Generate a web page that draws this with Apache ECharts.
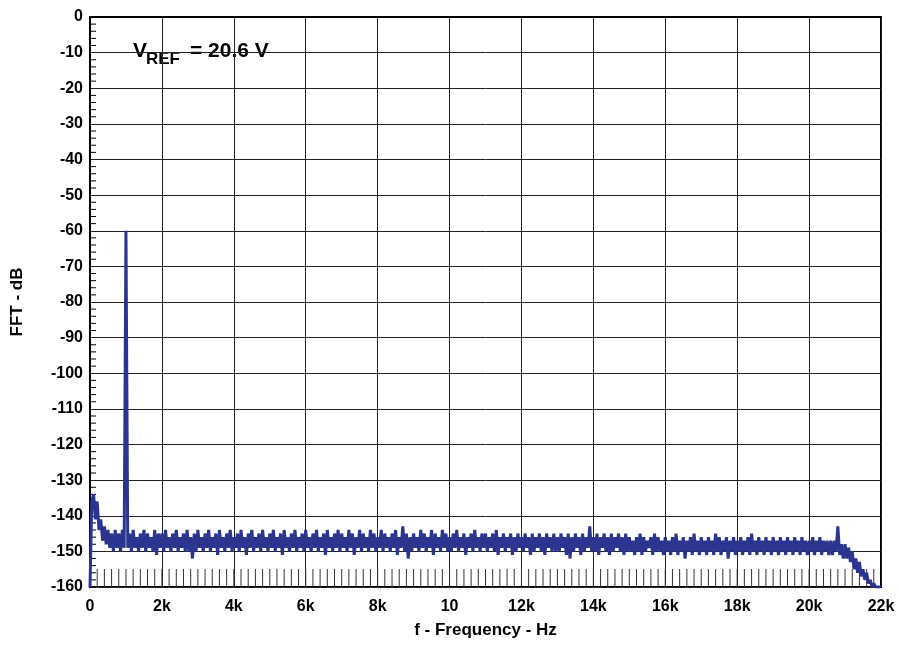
<!DOCTYPE html>
<html>
<head>
<meta charset="utf-8">
<script src="https://cdn.jsdelivr.net/npm/echarts@6/dist/echarts.min.js"></script>
<style>
  html, body { margin: 0; padding: 0; background: #fff; }
  #fftChart { width: 899px; height: 646px; }
</style>
</head>
<body>
<div id="fftChart"></div>
<script>
/*---------------------数据----------------------------*/
// FFT bins, 50 Hz apart, 0 .. 22 kHz (one row = 1 kHz)
var binStep = 50;
var fftDb = [
    -160, -136, -134, -141, -136, -144, -141, -147, -143, -148, -144, -149, -145, -150, -144, -149, -145, -150, -144, -149,
    -60, -149, -145, -150, -144, -149, -146, -150, -145, -149, -144, -150, -145, -149, -146, -150, -144, -151, -145, -149,
    -145, -150, -144, -149, -146, -150, -145, -149, -144, -150, -146, -149, -145, -150, -144, -150, -146, -152, -145, -150,
    -144, -149, -146, -150, -145, -149, -144, -150, -146, -149, -145, -151, -144, -149, -146, -150, -145, -149, -144, -150,
    -146, -149, -145, -150, -144, -149, -146, -151, -145, -149, -144, -150, -146, -149, -145, -150, -144, -149, -146, -150,
    -145, -149, -144, -150, -146, -149, -145, -151, -144, -149, -146, -150, -145, -149, -144, -150, -146, -149, -145, -150,
    -144, -149, -146, -150, -145, -149, -144, -150, -146, -149, -145, -151, -144, -149, -146, -150, -145, -149, -144, -150,
    -145, -149, -146, -150, -144, -149, -145, -151, -146, -149, -144, -150, -145, -149, -146, -150, -144, -149, -145, -150,
    -146, -149, -144, -150, -145, -149, -146, -150, -145, -149, -144, -151, -146, -149, -143, -150, -145, -152, -146, -150,
    -145, -149, -146, -150, -144, -149, -145, -150, -146, -149, -144, -151, -145, -149, -146, -150, -144, -149, -145, -150,
    -146, -150, -145, -149, -144, -150, -146, -149, -145, -151, -146, -149, -145, -150, -144, -149, -146, -150, -145, -149,
    -145, -150, -146, -149, -145, -150, -144, -151, -146, -149, -145, -150, -146, -149, -145, -151, -146, -150, -145, -149,
    -146, -150, -145, -149, -146, -151, -145, -150, -146, -149, -145, -150, -146, -151, -145, -149, -146, -150, -145, -150,
    -146, -150, -145, -149, -146, -151, -145, -152, -146, -150, -145, -149, -146, -151, -145, -150, -146, -149, -143, -150,
    -146, -150, -145, -151, -146, -149, -145, -150, -146, -151, -145, -150, -146, -149, -145, -150, -146, -151, -145, -150,
    -146, -150, -147, -151, -146, -150, -145, -151, -146, -150, -147, -149, -146, -151, -145, -150, -146, -150, -147, -151,
    -146, -150, -147, -151, -146, -150, -145, -151, -147, -150, -146, -152, -147, -150, -146, -151, -145, -150, -147, -151,
    -146, -150, -147, -151, -146, -150, -147, -151, -145, -150, -146, -151, -147, -150, -146, -152, -147, -150, -146, -151,
    -147, -150, -146, -151, -147, -150, -146, -151, -145, -150, -147, -151, -146, -150, -147, -151, -146, -150, -147, -151,
    -146, -150, -147, -151, -146, -150, -147, -151, -146, -150, -147, -151, -146, -150, -147, -151, -146, -150, -147, -151,
    -147, -150, -146, -151, -147, -150, -146, -151, -147, -150, -147, -151, -147, -151, -147, -150, -143, -151, -148, -152,
    -148, -152, -149, -153, -150, -155, -152, -156, -153, -157, -155, -158, -156, -159, -158, -160, -159, -160, -160, -160,
    -160
];
// x 轴刻度文字
var freqLabels = ['0', '2k', '4k', '6k', '8k', '10', '12k', '14k', '16k', '18k', '20k', '22k'];

var fftData = fftDb.map(function (v, i) {
    return [i * binStep, v];
});

// 小刻度 (x: every 200 Hz, y: every 2 dB), drawn inside the plot
var xMinorTicks = [];
for (var f = 200; f < 22000; f += 200) xMinorTicks.push([f]);
var yMinorTicks = [];
for (var d = -158; d < 0; d += 2) if (d % 10 !== 0) yMinorTicks.push([d]);

/*---------------------配置----------------------------*/
var labelFont = {
    color: '#000',
    fontFamily: '"Liberation Sans", Arial, sans-serif',
    fontWeight: 'bold',
    fontSize: 16
};

var myChart = echarts.init(document.getElementById('fftChart'));
var option = {
    animation: false,
    backgroundColor: '#fff',
    grid: {
        left: 90,
        right: 18,
        top: 17,
        bottom: 59,
        show: true,
        borderColor: '#000',
        borderWidth: 2
    },
    xAxis: {
        type: 'value',
        min: 0,
        max: 22000,
        interval: 2000,
        name: 'f - Frequency - Hz',
        nameLocation: 'middle',
        nameGap: 35,
        nameTextStyle: {
            color: '#000',
            fontFamily: '"Liberation Sans", Arial, sans-serif',
            fontWeight: 'bold',
            fontSize: 17
        },
        axisLine: { lineStyle: { color: '#000', width: 2 } },
        axisTick: { show: false },
        splitLine: { show: true, lineStyle: { color: '#222', width: 1 } },
        axisLabel: Object.assign({
            margin: 12,
            formatter: function (v) {
                return freqLabels[Math.round(v / 2000)];
            }
        }, labelFont)
    },
    yAxis: {
        type: 'value',
        min: -160,
        max: 0,
        interval: 10,
        name: 'FFT - dB',
        nameLocation: 'middle',
        nameGap: 64,
        nameTextStyle: {
            color: '#000',
            fontFamily: '"Liberation Sans", Arial, sans-serif',
            fontWeight: 'bold',
            fontSize: 17
        },
        axisLine: { lineStyle: { color: '#000', width: 2 } },
        axisTick: { show: false },
        splitLine: { show: true, lineStyle: { color: '#222', width: 1 } },
        axisLabel: Object.assign({ margin: 7 }, labelFont)
    },
    graphic: [{
        type: 'group',
        left: 123,
        top: 32,
        children: [{
            type: 'rect',
            shape: { x: 0, y: 0, width: 152, height: 38 },
            style: { fill: '#fff' }
        }, {
            type: 'text',
            x: 10,
            y: 9,
            style: {
                text: 'V',
                fill: '#000',
                font: 'bold 21px "Liberation Sans", Arial, sans-serif'
            }
        }, {
            type: 'text',
            x: 23,
            y: 19,
            style: {
                text: 'REF',
                fill: '#000',
                font: 'bold 17px "Liberation Sans", Arial, sans-serif'
            }
        }, {
            type: 'text',
            x: 67,
            y: 9,
            style: {
                text: '= 20.6 V',
                fill: '#000',
                font: 'bold 21px "Liberation Sans", Arial, sans-serif'
            }
        }]
    }],
    series: [
        // x 小刻度
        {
            type: 'custom',
            data: xMinorTicks,
            silent: true,
            z: 3,
            renderItem: function (params, api) {
                var p0 = api.coord([api.value(0), -160]);
                return {
                    type: 'line',
                    shape: { x1: p0[0], y1: p0[1], x2: p0[0], y2: p0[1] - 18 },
                    style: { stroke: '#333', lineWidth: 1 }
                };
            }
        },
        // y 小刻度
        {
            type: 'custom',
            data: yMinorTicks,
            silent: true,
            z: 3,
            renderItem: function (params, api) {
                var p0 = api.coord([0, api.value(0)]);
                return {
                    type: 'line',
                    shape: { x1: p0[0], y1: p0[1], x2: p0[0] + 6, y2: p0[1] },
                    style: { stroke: '#000', lineWidth: 1 }
                };
            }
        },
        {
            name: 'FFT',
            type: 'line',
            data: fftData,
            showSymbol: false,
            symbol: 'none',
            lineStyle: { color: '#2b3590', width: 3 },
            z: 5
        }
    ]
};
myChart.setOption(option);
</script>
</body>
</html>
